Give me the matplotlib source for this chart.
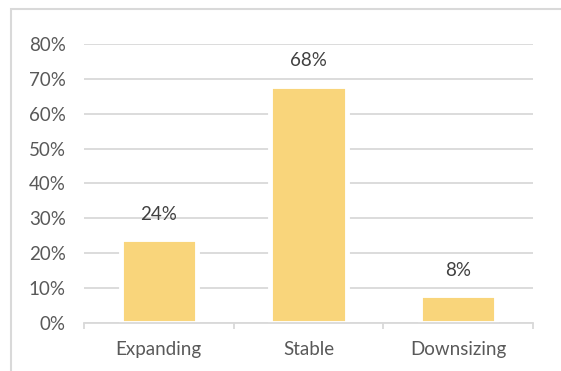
import matplotlib
matplotlib.use("Agg")
from matplotlib import pyplot as plt
from matplotlib.patches import Rectangle
import numpy as np

categories = ["Expanding", "Stable", "Downsizing"]
shares = [24, 68, 8]
y_ticks = [0, 10, 20, 30, 40, 50, 60, 70, 80]

bar_color = "#F9D57B"
grid_color = "#D9D9D9"
text_color = "#595959"

plt.rcParams["font.family"] = ["Lato", "DejaVu Sans"]

fig = plt.figure(figsize=(5.61, 3.71), dpi=100)
ax = fig.add_axes([0.1497, 0.1294, 0.8003, 0.752])

x = np.arange(len(categories))
ax.bar(x, shares, width=0.51, color=bar_color, edgecolor="white",
       linewidth=3.5, zorder=2)

for xi, v in zip(x, shares):
    ax.annotate(f"{v}%", (xi, v), xytext=(0, 18), textcoords="offset points",
                ha="center", va="center", fontsize=13.5, color="#404040")

ax.set_xlim(-0.5, len(categories) - 0.5)
ax.set_ylim(0, 80)
ax.set_yticks(y_ticks)
ax.set_yticklabels([f"{t}%" for t in y_ticks])
ax.yaxis.grid(True, color=grid_color, linewidth=1.3, zorder=1)
ax.set_axisbelow(True)

ax.set_xticks(x)
ax.set_xticklabels(categories)
ax.set_xticks([-0.5, 0.5, 1.5, 2.5], minor=True)
ax.tick_params(axis="x", which="major", length=0, pad=13, labelsize=13.5,
               labelcolor=text_color)
ax.tick_params(axis="x", which="minor", length=4.5, width=1.3,
               color=grid_color, direction="out")
ax.tick_params(axis="y", length=0, pad=13, labelsize=13.5, labelcolor=text_color)

for s in ["top", "right", "left"]:
    ax.spines[s].set_visible(False)
ax.spines["bottom"].set_color(grid_color)
ax.spines["bottom"].set_linewidth(1.3)
ax.spines["bottom"].set_zorder(3)

# outer chart frame
fig.add_artist(Rectangle((11 / 561, -0.1), 1.2, 1.1 - 9 / 371,
                         transform=fig.transFigure, fill=False,
                         edgecolor=grid_color, linewidth=1.5))

fig.savefig("out.png", dpi=100)
